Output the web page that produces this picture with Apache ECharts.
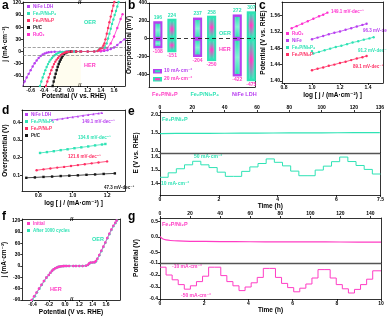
<!DOCTYPE html>
<html><head><meta charset="utf-8">
<script src="https://cdn.jsdelivr.net/npm/echarts@6/dist/echarts.min.js"></script>
<style>html,body{margin:0;padding:0;background:#fff}#c{width:387px;height:319px}</style>
</head><body><div id="c"></div>
<script>
// ===================== DATA =====================
// Panel a : LSV curves [V vs RHE, j mA cm-2]
const aTicksHER = [-0.6, -0.4, -0.2, 0.0];
const aTicksOER = [1.2, 1.4, 1.6];
const aTicksJ = [-60, -30, 0, 30, 60, 90, 120];
const aNiFeHER = [[-0.72,-85],[-0.69,-74],[-0.66,-64],[-0.63,-55],[-0.6,-46],[-0.57,-37],[-0.54,-29],[-0.51,-22],[-0.48,-16],[-0.45,-11],[-0.42,-7.5],[-0.39,-5],[-0.36,-3.2],[-0.33,-2],[-0.29,-1.2],[-0.24,-0.6],[-0.16,-0.2],[-0.06,0],[0.05,0],[0.15,0]];
const aNi5P4HER = [[-0.46,-85],[-0.44,-74],[-0.42,-64],[-0.40,-55],[-0.38,-46],[-0.36,-38],[-0.34,-31],[-0.32,-25],[-0.30,-20],[-0.28,-16],[-0.26,-12],[-0.24,-9],[-0.22,-6.5],[-0.2,-4.5],[-0.18,-3],[-0.15,-1.6],[-0.12,-0.8],[-0.08,-0.3],[-0.03,-0.1],[0.05,0],[0.15,0]];
const aNi2PHER = [[-0.37,-85],[-0.35,-74],[-0.33,-64],[-0.31,-55],[-0.29,-46],[-0.27,-38],[-0.25,-31],[-0.23,-25],[-0.21,-20],[-0.19,-16],[-0.17,-12],[-0.15,-9],[-0.13,-6.5],[-0.11,-4.5],[-0.09,-3],[-0.07,-1.8],[-0.05,-1],[-0.02,-0.4],[0.02,0],[0.08,0],[0.15,0]];
const aPtCHER = [[-0.27,-85],[-0.255,-74],[-0.24,-64],[-0.225,-55],[-0.21,-46],[-0.195,-38],[-0.18,-31],[-0.165,-25],[-0.15,-20],[-0.135,-15],[-0.12,-11],[-0.1,-7],[-0.08,-4],[-0.06,-2],[-0.04,-1],[-0.02,-0.4],[0.01,0],[0.08,0],[0.15,0]];
const aNi2POER = [[1.1,0],[1.2,0],[1.3,0.3],[1.35,1],[1.37,4],[1.39,7.5],[1.41,8],[1.426,10],[1.44,15],[1.454,20],[1.47,30],[1.49,44],[1.51,58],[1.53,72],[1.55,86],[1.57,100],[1.59,113],[1.605,122]];
const aNi5P4OER = [[1.1,0],[1.2,0],[1.3,0.3],[1.35,1.5],[1.37,5],[1.39,8],[1.42,8.5],[1.45,9],[1.467,10],[1.488,20],[1.51,32],[1.53,44],[1.55,56],[1.57,68],[1.59,79],[1.61,90],[1.63,100],[1.65,111],[1.67,122]];
const aRuO2OER = [[1.1,0],[1.2,0],[1.3,0],[1.4,1],[1.45,4],[1.5,9],[1.55,20],[1.6,37],[1.65,58],[1.7,80],[1.73,92]];
const aNiFeOER = [[1.1,0],[1.2,0],[1.3,0],[1.4,0.5],[1.45,1.5],[1.5,3],[1.55,6],[1.6,10],[1.65,16],[1.7,23],[1.76,30]];

// Panel b : overpotentials (mV)
const bCategories = ['Fe₂P/Ni₂P', 'Fe₂P/Ni₅P₄', 'NiFe LDH'];
const b10_OER = [196, 237, 272];
const b10_HER = [-108, -204, -422];
const b20_OER = [224, 258, 307];
const b20_HER = [-151, -250, -475];
const bTicks = [-400, -200, 0, 200, 400];

// Panel c : OER Tafel [log j, E]
const cTicksX = [0.8, 1.0, 1.2, 1.4];
const cTicksY = [1.40, 1.44, 1.48, 1.52, 1.56];
const cRuO2 = [[0.855,1.529],[0.89,1.534],[0.93,1.540],[0.97,1.546],[1.01,1.552],[1.05,1.558],[1.08,1.562],[1.11,1.567]];
const cNiFe = [[1.0,1.502],[1.04,1.506],[1.08,1.510],[1.12,1.514],[1.16,1.518],[1.2,1.521],[1.24,1.525],[1.28,1.529],[1.32,1.533],[1.36,1.537],[1.39,1.540]];
const cNi5P4 = [[1.0,1.473],[1.01,1.467],[1.05,1.471],[1.09,1.475],[1.13,1.479],[1.17,1.483],[1.21,1.486],[1.25,1.490],[1.29,1.494],[1.33,1.497],[1.37,1.501],[1.41,1.504],[1.44,1.507]];
const cNi2P = [[1.0,1.426],[1.04,1.430],[1.08,1.433],[1.12,1.437],[1.16,1.440],[1.2,1.444],[1.24,1.447],[1.28,1.451],[1.32,1.455],[1.36,1.458],[1.39,1.461]];
const cSlopes = ['149.1 mV·dec⁻¹', '96.3 mV·dec⁻¹', '91.2 mV·dec⁻¹', '89.1 mV·dec⁻¹'];

// Panel d : HER Tafel [log j, overpotential V]
const dTicksX = [0.8, 1.0, 1.2];
const dTicksY = [0.1, 0.2, 0.3, 0.4];
const dNiFe = [[0.88,0.413],[0.91,0.417],[0.94,0.421],[0.97,0.426],[1.0,0.430],[1.03,0.434],[1.06,0.439],[1.09,0.443],[1.12,0.447],[1.15,0.451],[1.17,0.454]];
const dNi5P4 = [[0.81,0.226],[0.85,0.231],[0.89,0.236],[0.93,0.242],[0.97,0.247],[1.01,0.253],[1.05,0.258],[1.09,0.263],[1.13,0.269],[1.17,0.274],[1.19,0.277]];
const dNi2P = [[0.79,0.128],[0.83,0.133],[0.87,0.138],[0.91,0.143],[0.95,0.147],[0.99,0.152],[1.03,0.157],[1.07,0.162],[1.11,0.167],[1.15,0.172],[1.2,0.178]];
const dPtC = [[0.73,0.085],[0.78,0.087],[0.83,0.090],[0.88,0.092],[0.93,0.095],[0.98,0.097],[1.03,0.099],[1.08,0.102],[1.13,0.104],[1.18,0.107],[1.245,0.110]];
const dSlopes = ['149.1 mV·dec⁻¹', '134.6 mV·dec⁻¹', '121.6 mV·dec⁻¹', '47.3 mV·dec⁻¹'];

// Panel e : OER stability
const eTopTicks = [0, 20, 40, 60, 80, 100, 120, 136];
const eLong = [[0,1.485],[10,1.487],[20,1.489],[30,1.491],[40,1.493],[50,1.495],[60,1.497],[70,1.499],[80,1.501],[90,1.503],[100,1.505],[110,1.507],[120,1.509],[136,1.512]];
const eStepHours = 2.5 / 9;          // duration of each current step (h)
const eLevels = [1.445,1.479,1.51,1.54,1.567,1.54,1.519,1.484,1.452,
                 1.452,1.49,1.524,1.55,1.585,1.559,1.532,1.492,1.457,
                 1.457,1.50,1.53,1.564,1.599,1.565,1.535,1.505,1.47];
const eBotTicks = [0, 2, 4, 6, 7.5];

// Panel f : before/after cycling [V, j]
const fTicksL = [-0.4, -0.2, 0.0];
const fTicksR = [1.2, 1.4, 1.6];
const fTicksJ = [-90, -60, -30, 0, 30, 60, 90, 120];
const fInitHER = [[-0.41,-90],[-0.38,-80],[-0.35,-70],[-0.32,-60],[-0.29,-50],[-0.26,-40],[-0.23,-31],[-0.2,-24],[-0.18,-18],[-0.16,-13],[-0.14,-9],[-0.12,-6],[-0.1,-4],[-0.08,-2.5],[-0.06,-1.5],[-0.04,-0.8],[-0.02,-0.4],[0,-0.2],[0.02,-0.1],[0.05,0],[0.1,0]];
const fAfterHER = [[-0.40,-90],[-0.37,-80],[-0.345,-70],[-0.315,-60],[-0.285,-50],[-0.255,-40],[-0.228,-31],[-0.199,-24],[-0.179,-18],[-0.159,-13],[-0.14,-9],[-0.12,-6],[-0.1,-4],[-0.08,-2.5],[-0.06,-1.5],[-0.04,-0.8],[-0.02,-0.4],[0,-0.2],[0.02,-0.1],[0.05,0],[0.1,0]];
const fInitOER = [[1.11,0],[1.15,0],[1.2,0],[1.25,0],[1.3,0.5],[1.33,3],[1.35,7],[1.37,9],[1.4,9],[1.43,10],[1.45,13],[1.47,19],[1.5,29],[1.53,40],[1.56,51],[1.59,62],[1.62,74],[1.65,85],[1.68,96],[1.71,106],[1.74,114],[1.76,120]];
const fAfterOER = [[1.11,0],[1.15,0],[1.2,0],[1.25,0],[1.3,0.4],[1.33,2.5],[1.35,6],[1.37,8.5],[1.4,9],[1.43,9.5],[1.45,12],[1.47,18],[1.5,28],[1.53,39],[1.56,50],[1.59,61],[1.62,73],[1.65,84],[1.68,95],[1.71,105],[1.74,113],[1.765,120]];

// Panel g : HER stability
const gTopTicks = [0, 20, 40, 60, 80, 100, 120, 140];
const gLong = [[0,0.02],[1,-0.03],[2,-0.06],[4,-0.09],[7,-0.11],[12,-0.125],[20,-0.135],[40,-0.145],[60,-0.15],[80,-0.152],[100,-0.155],[120,-0.158],[147,-0.16]];
const gStepHours = 0.275;
const gLevels = [-0.135,-0.20,-0.24,-0.28,-0.318,-0.29,-0.255,-0.21,-0.135,
                 -0.135,-0.205,-0.255,-0.29,-0.33,-0.30,-0.265,-0.22,-0.145,
                 -0.145,-0.22,-0.27,-0.305,-0.34,-0.31,-0.275,-0.225,-0.155,
                 -0.155,-0.225,-0.28,-0.315,-0.35,-0.32,-0.28,-0.235,-0.165];
const gEndHour = 10;
const gBotTicks = [0, 2, 4, 6, 8, 10];

// ===================== STYLE / BUILD =====================
const FONT = '"Liberation Sans","DejaVu Sans",Arial,sans-serif';
const COL = {purple:'#b83ff0', cyan:'#2fe3b5', red:'#ff2e63', black:'#161616', magenta:'#ff30d0', pink:'#ff3cc4', dash:'#8c8c8c'};

function merge(a, b) {
  const o = Object.assign({}, a);
  for (const k in b) {
    const v = b[k];
    if (v && typeof v === 'object' && !Array.isArray(v) && typeof v !== 'function' &&
        o[k] && typeof o[k] === 'object' && !Array.isArray(o[k])) o[k] = merge(o[k], v);
    else o[k] = v;
  }
  return o;
}
const AXL = {color:'#000', width:0.8};
const baseAxis = {type:'value', axisLine:{show:true,onZero:false,lineStyle:AXL},
  axisTick:{show:true,length:2,lineStyle:AXL},
  axisLabel:{show:true,fontSize:5,fontWeight:'bold',color:'#000',margin:2,fontFamily:FONT},
  splitLine:{show:false},
  nameTextStyle:{fontSize:6.5,fontWeight:'bold',fontFamily:FONT,color:'#000'}};
const frameAxis = merge(baseAxis, {axisTick:{show:false}, axisLabel:{show:false}, min:0, max:1});

const grids = [], xAxes = [], yAxes = [], series = [], graphics = [], legends = [];
function grid(l, t, w, h) { grids.push({left:l, top:t, width:w, height:h}); return grids.length - 1; }
function addX(g, cfg, frame) { xAxes.push(merge(merge(frame ? frameAxis : baseAxis, {gridIndex:g}), cfg || {})); return xAxes.length - 1; }
function addY(g, cfg, frame) { yAxes.push(merge(merge(frame ? frameAxis : baseAxis, {gridIndex:g}), cfg || {})); return yAxes.length - 1; }
function ticks(vals, dec) {
  return {axisLabel:{customValues:vals, formatter: v => (dec == null ? String(v) : Number(v).toFixed(dec))},
          axisTick:{customValues:vals}};
}
function line(name, data, xi, yi, color, extra) {
  return merge({type:'line', name, data, xAxisIndex:xi, yAxisIndex:yi, symbol:'circle', symbolSize:2.4,
    showSymbol:true, lineStyle:{width:0.8, color}, itemStyle:{color}, silent:true, animation:false, z:3}, extra || {});
}
function txt(x, y, text, color, size, extra) {
  graphics.push(merge({type:'text', x, y, silent:true, style:{text, fill:color || '#000', fontSize:size || 5,
    fontWeight:'bold', fontFamily:FONT}}, extra || {}));
}
function legend(left, top, items, extra) {
  legends.push(merge({left, top, orient:'vertical', padding:0, itemGap:2, itemWidth:3, itemHeight:3, icon:'rect',
    selectedMode:false, textStyle:{fontSize:4.5, fontWeight:'bold', fontFamily:FONT, padding:[0,0,0,-2]},
    data: items.map(([n, c]) => ({name:n, textStyle:{color:c}}))}, extra || {}));
}
function stepSeries(levels, stepH, endH) {
  const pts = levels.map((v, i) => [i * stepH, v]);
  pts.push([endH, levels[levels.length - 1]]);
  return pts;
}
const dashML = (vals) => ({symbol:'none', silent:true, label:{show:false}, animation:false,
  lineStyle:{type:'dashed', color:COL.dash, width:0.8}, data: vals.map(v => ({yAxis:v}))});

// ---------- Panel a ----------
const gA1 = grid(23, 2, 58, 84), gA2 = grid(81, 2, 44, 84);
const aYmin = -85, aYmax = 122;
const xA1 = addX(gA1, merge({min:-0.715, max:0.155}, ticks(aTicksHER, 1)));
addX(gA1, {position:'top'}, true);
const yA1 = addY(gA1, merge({min:aYmin, max:aYmax, name:'j (mA·cm⁻²)', nameLocation:'middle', nameGap:12}, ticks(aTicksJ)));
const xA2 = addX(gA2, merge({min:1.098, max:1.767}, ticks(aTicksOER, 1)));
addX(gA2, {position:'top'}, true);
const yA2 = addY(gA2, {min:aYmin, max:aYmax, position:'right', axisLabel:{show:false}, axisTick:{show:false}});
series.push(line('Pt/C', aPtCHER, xA1, yA1, COL.black, {symbol:'rect', areaStyle:{origin:'start', color:'rgba(255,248,205,0.45)'}, markLine:dashML([10,-10])}));
series.push(line('NiFe LDH', aNiFeHER, xA1, yA1, COL.purple));
series.push(line('Fe₂P/Ni₅P₄', aNi5P4HER, xA1, yA1, COL.cyan));
series.push(line('Fe₂P/Ni₂P', aNi2PHER, xA1, yA1, COL.red));
series.push(line('NiFe LDH', aNiFeOER, xA2, yA2, COL.purple, {markLine:dashML([10,-10])}));
series.push(line('RuO₂', aRuO2OER, xA2, yA2, COL.magenta));
series.push(line('Fe₂P/Ni₅P₄', aNi5P4OER, xA2, yA2, COL.cyan));
series.push(line('Fe₂P/Ni₂P', aNi2POER, xA2, yA2, COL.red));
legend(27, 4, [['NiFe LDH',COL.purple],['Fe₂P/Ni₅P₄',COL.cyan],['Fe₂P/Ni₂P',COL.red],['Pt/C',COL.black],['RuO₂',COL.magenta]]);
txt(2, 0, 'a', '#000', 12);
txt(84, 19, 'OER', COL.cyan, 5.5);
txt(84, 62, 'HER', COL.pink, 5.5);
txt(78, -1, '//', '#000', 6);
txt(78, 82, '//', '#000', 6);
txt(74, 96, 'Potential (V vs. RHE)', '#000', 6.5, {style:{align:'center', verticalAlign:'middle'}});

// ---------- Panel b ----------
const gB = grid(149, 3, 106, 84);
const bBarW = 0.23, bOff = 0.177;
const xB = addX(gB, {min:-0.40, max:2.27, axisTick:{show:false},
  axisLabel:{customValues:[0,1,2], margin:4, formatter: v => '{c' + v + '|' + bCategories[v] + '}',
    rich:{c0:{color:COL.pink,fontSize:5.5,fontWeight:'bold',fontFamily:FONT},
          c1:{color:COL.cyan,fontSize:5.5,fontWeight:'bold',fontFamily:FONT},
          c2:{color:COL.purple,fontSize:5.5,fontWeight:'bold',fontFamily:FONT}}}});
addX(gB, {position:'top'}, true);
const yB = addY(gB, merge({min:-540, max:400, name:'Overpotential (mV)', nameLocation:'middle', nameGap:13}, ticks(bTicks)));
addY(gB, {position:'right'}, true);
function barRender(outer, innerMid, innerEdge) {
  return function (params, api) {
    const x = api.value(0), lo = api.value(1), hi = api.value(2);
    const t = api.coord([x, hi]), b = api.coord([x, lo]), z = api.coord([x, 0]);
    const w = api.size([bBarW, 0])[0];
    const L = t[0] - w / 2;
    const vg = {type:'linear', x:0, y:0, x2:0, y2:1, colorStops:[{offset:0,color:innerEdge},{offset:0.5,color:innerMid},{offset:1,color:innerEdge}]};
    const hg = {type:'linear', x:0, y:0, x2:1, y2:0, colorStops:[{offset:0,color:outer},{offset:0.35,color:'rgba(255,255,255,0)'},{offset:0.65,color:'rgba(255,255,255,0)'},{offset:1,color:outer}]};
    const kids = [{type:'rect', shape:{x:L, y:t[1], width:w, height:b[1] - t[1]}, style:{fill:outer}}];
    [[t[1] + 2.5, z[1] - 2], [z[1] + 2, b[1] - 2.5]].forEach(([y0, y1]) => {
      if (y1 - y0 > 1) {
        kids.push({type:'rect', shape:{x:L + 1.8, y:y0, width:w - 3.6, height:y1 - y0}, style:{fill:vg}});
        kids.push({type:'rect', shape:{x:L + 1.8, y:y0, width:w - 3.6, height:y1 - y0}, style:{fill:hg, opacity:0.6}});
      }
    });
    kids.push({type:'text', x:t[0], y:t[1] - 1, style:{text:String(hi), fill:COL.cyan, fontSize:5, fontWeight:'bold', fontFamily:FONT, align:'center', verticalAlign:'bottom'}});
    kids.push({type:'text', x:t[0], y:b[1] + 1, style:{text:String(lo), fill:COL.pink, fontSize:5, fontWeight:'bold', fontFamily:FONT, align:'center', verticalAlign:'top'}});
    return {type:'group', children:kids};
  };
}
series.push({type:'custom', name:'10 mA', xAxisIndex:xB, yAxisIndex:yB, silent:true, animation:false,
  data: bCategories.map((c, i) => [i - bOff, b10_HER[i], b10_OER[i]]),
  renderItem: barRender(COL.purple, '#7ff7d6', COL.cyan)});
series.push({type:'custom', name:'20 mA', xAxisIndex:xB, yAxisIndex:yB, silent:true, animation:false,
  data: bCategories.map((c, i) => [i + bOff, b20_HER[i], b20_OER[i]]),
  renderItem: barRender(COL.cyan, COL.pink, COL.cyan)});
series.push({type:'line', name:'zero', xAxisIndex:xB, yAxisIndex:yB, data:[], silent:true,
  markLine:{symbol:'none', silent:true, label:{show:false}, animation:false, lineStyle:{type:[4,3], color:'#222', width:0.9}, data:[{yAxis:0}]}});
txt(128, 0, 'b', '#000', 12);
txt(219, 30, 'OER', COL.cyan, 5.5);
txt(219, 46, 'HER', COL.pink, 5.5);
graphics.push({type:'rect', shape:{x:153, y:69, width:9, height:4.5}, style:{fill:COL.purple}});
graphics.push({type:'rect', shape:{x:155, y:70.2, width:5, height:2.1}, style:{fill:COL.cyan}});
graphics.push({type:'rect', shape:{x:153, y:77, width:9, height:4.5}, style:{fill:COL.cyan}});
graphics.push({type:'rect', shape:{x:155, y:78.2, width:5, height:2.1}, style:{fill:COL.pink}});
txt(164, 68.5, '10 mA·cm⁻²', COL.purple, 5);
txt(164, 76.5, '20 mA·cm⁻²', COL.pink, 5);

// ---------- Panel c ----------
const gC = grid(282, 2, 101, 81);
const xC = addX(gC, merge({min:0.786, max:1.507, name:'log [ j / (mA·cm⁻²) ]', nameLocation:'middle', nameGap:9}, ticks(cTicksX, 1)));
addX(gC, {position:'top'}, true);
const yC = addY(gC, merge({min:1.395, max:1.593, name:'Potential (V vs. RHE)', nameLocation:'middle', nameGap:15}, ticks(cTicksY, 2)));
addY(gC, {position:'right'}, true);
series.push(line('RuO₂', cRuO2, xC, yC, COL.magenta));
series.push(line('NiFe', cNiFe, xC, yC, COL.purple));
series.push(line('Fe₂P/Ni₅P₄', cNi5P4, xC, yC, COL.cyan));
series.push(line('Fe₂P/Ni₂P', cNi2P, xC, yC, COL.red));
legend(286, 31, [['RuO₂',COL.magenta],['NiFe',COL.purple],['Fe₂P/Ni₅P₄',COL.cyan],['Fe₂P/Ni₂P',COL.red]]);
txt(259, 0, 'c', '#000', 12);
txt(331, 9, cSlopes[0], COL.magenta, 4.5);
txt(363, 28, cSlopes[1], COL.purple, 4.5);
txt(358, 48, cSlopes[2], COL.cyan, 4.5);
txt(353, 64, cSlopes[3], COL.red, 4.5);

// ---------- Panel d ----------
const gD = grid(22, 110, 103, 81);
const xD = addX(gD, merge({min:0.705, max:1.304, name:'log [ j / (mA·cm⁻²) ]', nameLocation:'middle', nameGap:9}, ticks(dTicksX, 1)));
addX(gD, {position:'top'}, true);
const yD = addY(gD, merge({min:0.01, max:0.47, name:'Overpotential (V)', nameLocation:'middle', nameGap:11}, ticks(dTicksY, 1)));
addY(gD, {position:'right'}, true);
series.push(line('NiFe LDH', dNiFe, xD, yD, COL.purple, {symbol:'triangle'}));
series.push(line('Fe₂P/Ni₅P₄', dNi5P4, xD, yD, COL.cyan, {symbol:'rect'}));
series.push(line('Fe₂P/Ni₂P', dNi2P, xD, yD, COL.red));
series.push(line('Pt/C', dPtC, xD, yD, COL.black, {symbol:'rect'}));
legend(25, 112, [['NiFe LDH',COL.purple],['Fe₂P/Ni₅P₄',COL.cyan],['Fe₂P/Ni₂P',COL.red],['Pt/C',COL.black]]);
txt(2, 105, 'd', '#000', 12);
txt(82, 119, dSlopes[0], COL.purple, 4.5);
txt(78, 135, dSlopes[1], COL.cyan, 4.5);
txt(68, 154, dSlopes[2], COL.red, 4.5);
txt(104, 185, dSlopes[3], COL.black, 4.5);

// ---------- Panel e ----------
const gE1 = grid(160, 112, 221, 41), gE2 = grid(160, 153, 221, 42);
const xE1 = addX(gE1, merge({min:0, max:136, position:'top'}, ticks(eTopTicks)));
addX(gE1, {position:'bottom', axisLine:{lineStyle:{color:'#555', width:1.4}}}, true);
const yE1 = addY(gE1, merge({min:0.944, max:2.083}, ticks([1.0, 1.5, 2.0], 1)));
addY(gE1, {position:'right'}, true);
const xE2 = addX(gE2, merge({min:0, max:7.5, name:'Time (h)', nameLocation:'middle', nameGap:8}, ticks(eBotTicks)));
const yE2 = addY(gE2, merge({min:1.31, max:1.63}, ticks([1.4, 1.5, 1.6], 1)));
addY(gE2, {position:'right'}, true);
series.push(line('eLong', eLong, xE1, yE1, COL.cyan, {showSymbol:false, lineStyle:{width:1.2}}));
series.push(line('eStep', stepSeries(eLevels, eStepHours, 7.5), xE2, yE2, COL.cyan, {showSymbol:false, step:'end', lineStyle:{width:1}}));
txt(128, 106, 'e', '#000', 12);
txt(162, 116, 'Fe₂P/Ni₂P', COL.cyan, 5.5);
txt(194, 154, '50 mA·cm⁻²', COL.cyan, 5);
txt(161, 181, '10 mA·cm⁻²', COL.cyan, 5);
txt(136, 153, 'E (V vs. RHE)', '#000', 6.5, {rotation:Math.PI/2, style:{align:'center', verticalAlign:'middle'}});

// ---------- Panel f ----------
const gF1 = grid(22, 219, 51, 81), gF2 = grid(73, 219, 47, 81);
const fYmin = -90, fYmax = 124;
const xF1 = addX(gF1, merge({min:-0.526, max:0.098}, ticks(fTicksL, 1)));
addX(gF1, {position:'top'}, true);
const yF1 = addY(gF1, merge({min:fYmin, max:fYmax, name:'j (mA·cm⁻²)', nameLocation:'middle', nameGap:12}, ticks(fTicksJ)));
const xF2 = addX(gF2, merge({min:1.106, max:1.81}, ticks(fTicksR, 1)));
addX(gF2, {position:'top'}, true);
const yF2 = addY(gF2, {min:fYmin, max:fYmax, position:'right', axisLabel:{show:false}, axisTick:{show:false}});
series.push(line('After 1000 cycles', fAfterHER, xF1, yF1, COL.cyan, {symbolSize:2.6}));
series.push(line('Initial', fInitHER, xF1, yF1, COL.pink, {symbolSize:2.6}));
series.push(line('After 1000 cycles', fAfterOER, xF2, yF2, COL.cyan, {symbolSize:2.6}));
series.push(line('Initial', fInitOER, xF2, yF2, COL.pink, {symbolSize:2.6}));
legend(27, 221, [['Initial',COL.pink],['After 1000 cycles',COL.cyan]]);
txt(2, 211, 'f', '#000', 12);
txt(92, 236, 'OER', COL.cyan, 5.5);
txt(50, 286, 'HER', COL.pink, 5.5);
txt(70, 216, '//', '#000', 6);
txt(70, 296, '//', '#000', 6);
txt(71, 312, 'Potential (V vs. RHE)', '#000', 6.5, {style:{align:'center', verticalAlign:'middle'}});

// ---------- Panel g ----------
const gG1 = grid(160, 218, 221, 45), gG2 = grid(160, 263, 221, 36);
const xG1 = addX(gG1, merge({min:0, max:147, position:'top'}, ticks(gTopTicks)));
addX(gG1, {position:'bottom', axisLine:{lineStyle:{color:'#555', width:1.4}}}, true);
const yG1 = addY(gG1, merge({min:-0.83, max:0.61}, ticks([-0.5, 0.0, 0.5], 1)));
addY(gG1, {position:'right'}, true);
const xG2 = addX(gG2, merge({min:0, max:10, name:'Time (h)', nameLocation:'middle', nameGap:8}, ticks(gBotTicks)));
const yG2 = addY(gG2, merge({min:-0.4, max:-0.1}, ticks([-0.4, -0.3, -0.2, -0.1], 1)));
addY(gG2, {position:'right'}, true);
series.push(line('gLong', gLong, xG1, yG1, COL.pink, {showSymbol:false, smooth:0.3, lineStyle:{width:1.2}}));
series.push(line('gStep', stepSeries(gLevels, gStepHours, gEndHour), xG2, yG2, COL.pink, {showSymbol:false, step:'end', lineStyle:{width:1}}));
txt(128, 211, 'g', '#000', 12);
txt(162, 221, 'Fe₂P/Ni₂P', COL.pink, 5.5);
txt(172, 264, '-10 mA·cm⁻²', COL.pink, 5);
txt(181, 293, '-50 mA·cm⁻²', COL.pink, 5);
txt(136, 258, 'Potential (V)', '#000', 6.5, {rotation:Math.PI/2, style:{align:'center', verticalAlign:'middle'}});

const chart = echarts.init(document.getElementById('c'), null, {renderer:'canvas'});
chart.setOption({animation:false, backgroundColor:'#fff', textStyle:{fontFamily:FONT},
  grid:grids, xAxis:xAxes, yAxis:yAxes, series, legend:legends, graphic:{elements:graphics}});
</script></body></html>
